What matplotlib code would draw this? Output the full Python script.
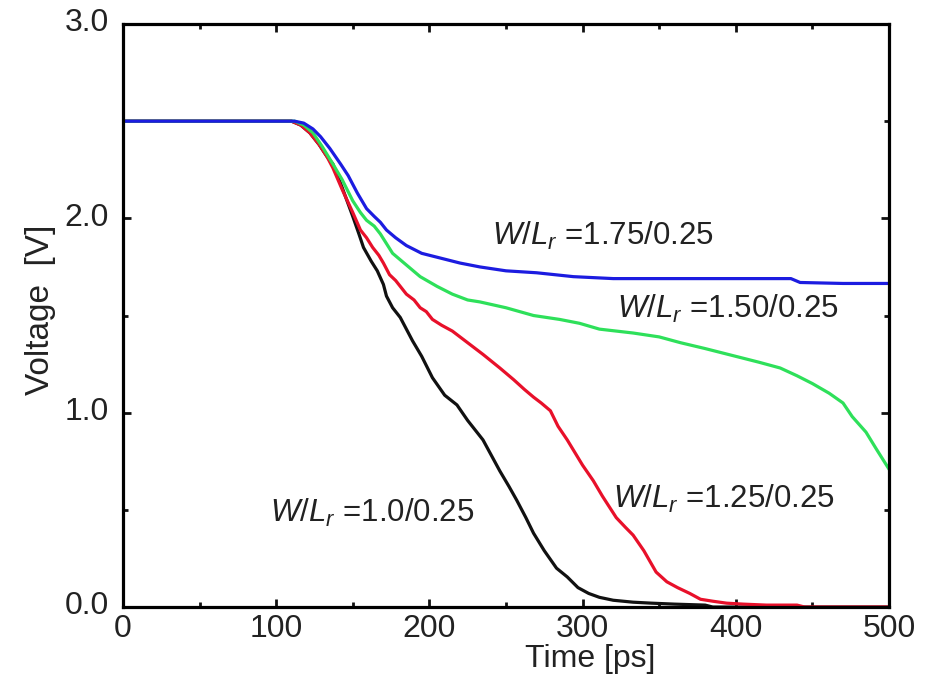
import matplotlib
matplotlib.use("Agg")
import matplotlib.pyplot as plt
from matplotlib.ticker import MultipleLocator
import matplotlib.transforms as mtransforms

plt.rcParams['font.family'] = ['Liberation Sans', 'DejaVu Sans']
plt.rcParams['mathtext.fontset'] = 'custom'
plt.rcParams['mathtext.rm'] = 'Liberation Sans'
plt.rcParams['mathtext.it'] = 'Liberation Sans:italic'

# ---- data ----
t_blue = [0, 112, 118, 124, 129, 135, 142, 147, 153, 159, 164, 168, 172, 178, 185, 195, 205, 220, 233, 250, 270, 294, 320, 350, 380, 410, 436, 442, 470, 500]
v_blue = [2.50, 2.50, 2.49, 2.46, 2.42, 2.36, 2.28, 2.22, 2.13, 2.05, 2.01, 1.98, 1.94, 1.90, 1.86, 1.82, 1.80, 1.77, 1.75, 1.73, 1.72, 1.70, 1.69, 1.69, 1.69, 1.69, 1.69, 1.67, 1.665, 1.665]

t_green = [0, 112, 118, 124, 130, 137, 143, 150, 155, 159, 164, 168, 172, 176, 185, 194, 205, 215, 225, 233, 250, 268, 285, 298, 311, 333, 350, 364, 380, 400, 415, 429, 440, 450, 461, 470, 476, 485, 492, 500]
v_green = [2.50, 2.50, 2.48, 2.44, 2.37, 2.28, 2.20, 2.09, 2.03, 1.99, 1.96, 1.92, 1.87, 1.82, 1.76, 1.70, 1.65, 1.61, 1.58, 1.57, 1.54, 1.50, 1.48, 1.46, 1.43, 1.41, 1.39, 1.36, 1.33, 1.29, 1.26, 1.23, 1.19, 1.15, 1.10, 1.05, 0.98, 0.90, 0.81, 0.71]

t_red = [0, 110, 116, 122, 128, 133, 137, 143, 150, 155, 159, 163, 167, 170, 174, 178, 181, 185, 190, 194, 198, 202, 208, 215, 225, 235, 246, 255, 262, 268, 273, 279, 284, 290, 300, 307, 313, 322, 328, 333, 340, 348, 355, 362, 370, 377, 385, 394, 405, 420, 440, 445, 500]
v_red = [2.50, 2.50, 2.48, 2.44, 2.38, 2.32, 2.26, 2.15, 2.03, 1.94, 1.90, 1.85, 1.81, 1.77, 1.71, 1.68, 1.65, 1.61, 1.58, 1.54, 1.52, 1.48, 1.45, 1.42, 1.36, 1.30, 1.23, 1.17, 1.12, 1.08, 1.05, 1.01, 0.93, 0.86, 0.73, 0.65, 0.57, 0.46, 0.41, 0.37, 0.29, 0.18, 0.13, 0.10, 0.07, 0.04, 0.03, 0.02, 0.015, 0.01, 0.01, 0.0, 0.0]

t_black = [0, 110, 116, 122, 128, 133, 137, 143, 150, 154, 157, 162, 166, 170, 172, 176, 181, 189, 195, 202, 210, 218, 225, 235, 246, 252, 257, 263, 268, 275, 283, 290, 297, 304, 311, 320, 333, 345, 360, 380, 385, 500]
v_black = [2.50, 2.50, 2.48, 2.44, 2.38, 2.32, 2.28, 2.16, 2.01, 1.92, 1.85, 1.78, 1.73, 1.66, 1.60, 1.54, 1.49, 1.37, 1.29, 1.18, 1.09, 1.04, 0.96, 0.86, 0.70, 0.62, 0.55, 0.46, 0.38, 0.29, 0.20, 0.155, 0.10, 0.07, 0.05, 0.035, 0.025, 0.02, 0.015, 0.01, 0.0, 0.0]

labels = [r'$W/L_r$ =1.0/0.25', r'$W/L_r$ =1.25/0.25', r'$W/L_r$ =1.50/0.25', r'$W/L_r$ =1.75/0.25']
label_pos = [(96, 0.437), (320, 0.509), (322.5, 1.486), (241, 1.861)]

x_ticks = [0, 100, 200, 300, 400, 500]
y_ticks = [0.0, 1.0, 2.0, 3.0]

# ---- figure ----
fig = plt.figure(figsize=(9.26, 6.76), dpi=100)
ax = fig.add_axes([0.1328, 0.102, 0.8272, 0.8625])

lw = 2.3
ax.plot(t_black, v_black, color='#111111', lw=lw)
ax.plot(t_red, v_red, color='#e8102a', lw=lw)
ax.plot(t_green, v_green, color='#2ee05a', lw=lw)
ax.plot(t_blue, v_blue, color='#1c1ce0', lw=lw)

for txt, (x, y) in zip(labels, label_pos):
    ax.text(x, y, txt, fontsize=22.5, color='#222222', ha='left', va='baseline')

ax.set_xlim(0, 500)
ax.set_ylim(0, 3.0)
ax.set_xticks(x_ticks)
ax.set_xticklabels([str(v) for v in x_ticks])
ax.set_yticks(y_ticks)
ax.set_yticklabels([f'{v:.1f}' for v in y_ticks])
ax.xaxis.set_minor_locator(MultipleLocator(50))
ax.yaxis.set_minor_locator(MultipleLocator(0.5))

for s in ax.spines.values():
    s.set_linewidth(2.3)
ax.tick_params(which='both', direction='in', top=True, right=True, width=2.0, colors='#111111')
ax.tick_params(which='major', length=6)
ax.tick_params(which='minor', length=3.5)
ax.tick_params(axis='both', labelsize=23, labelcolor='#222222')
ax.tick_params(axis='x', pad=5)
ax.tick_params(axis='y', pad=10)

off = mtransforms.ScaledTranslation(0, 3 / 72, fig.dpi_scale_trans)
for lab in ax.get_yticklabels():
    lab.set_transform(lab.get_transform() + off)

ax.set_xlabel('Time [ps]', fontsize=23, color='#222222')
ax.xaxis.set_label_coords(0.61, -0.064)
ax.set_ylabel('Voltage  [V]', fontsize=24, color='#222222')
ax.yaxis.set_label_coords(-0.088, 0.51)

fig.savefig('out.png', dpi=100)
